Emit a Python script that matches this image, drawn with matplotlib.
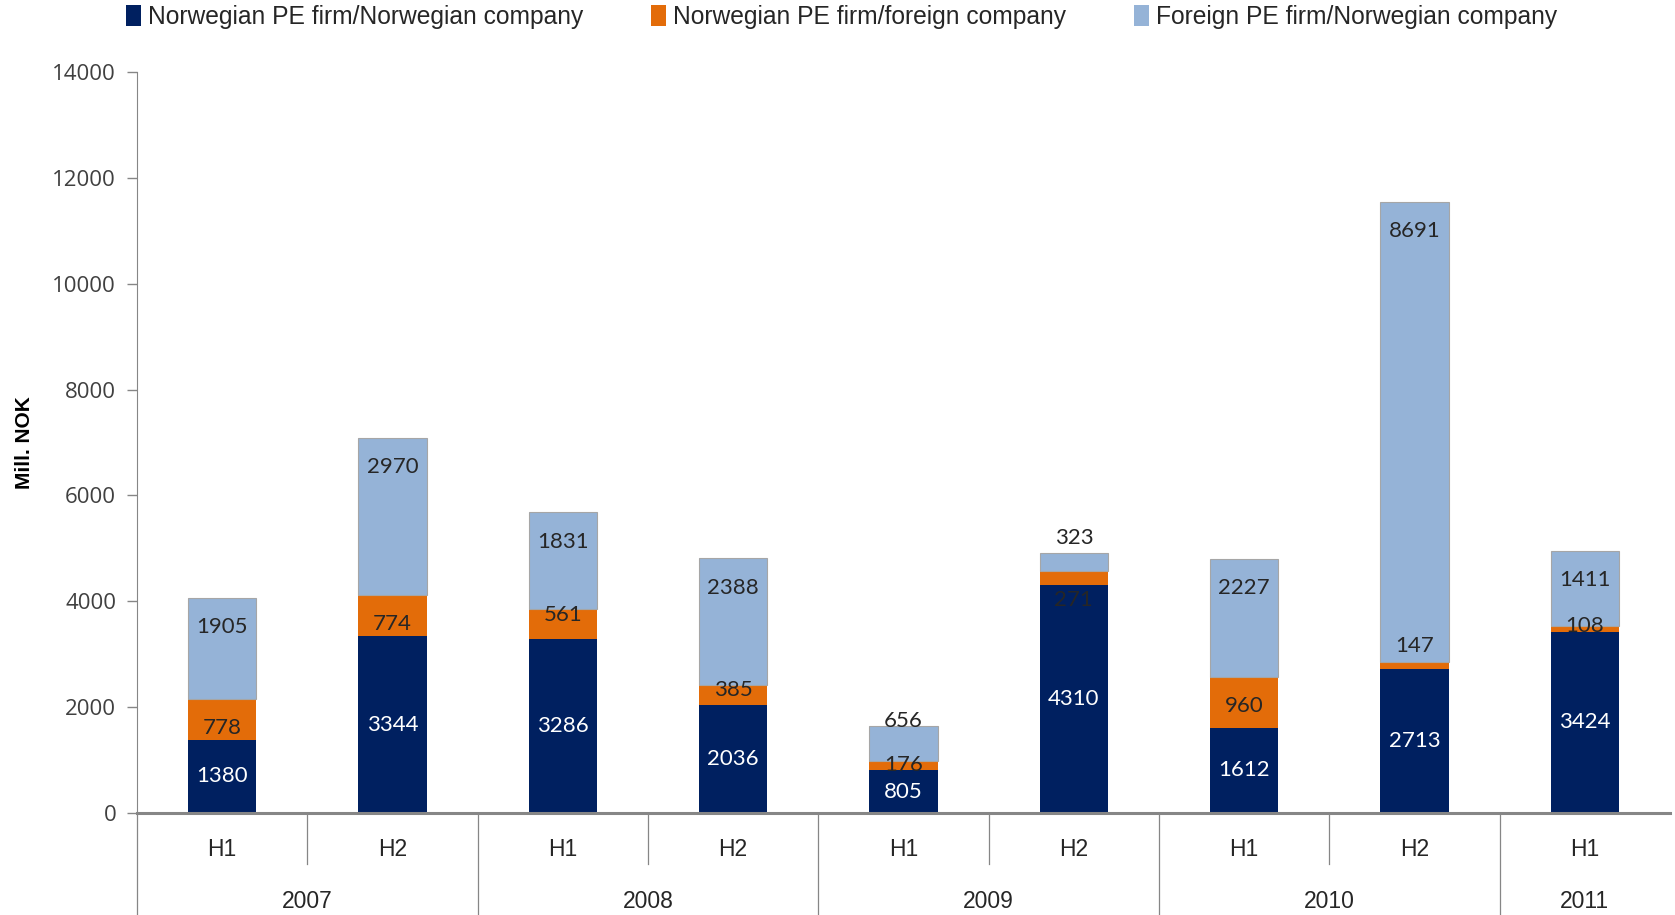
import matplotlib
matplotlib.use("Agg")
import matplotlib.pyplot as plt
import matplotlib.transforms as mtransforms
from matplotlib.patches import Patch
import numpy as np

# ---- data ----
halves = ["H1", "H2", "H1", "H2", "H1", "H2", "H1", "H2", "H1"]
years = ["2007", "2008", "2009", "2010", "2011"]
year_sizes = [2, 2, 2, 2, 1]
series_names = ["Norwegian PE firm/Norwegian company",
                "Norwegian PE firm/foreign company",
                "Foreign PE firm/Norwegian company"]
nor_nor = [1380, 3344, 3286, 2036, 805, 4310, 1612, 2713, 3424]
nor_for = [778, 774, 561, 385, 176, 271, 960, 147, 108]
for_nor = [1905, 2970, 1831, 2388, 656, 323, 2227, 8691, 1411]
y_ticks = [0, 2000, 4000, 6000, 8000, 10000, 12000, 14000]

# ---- style ----
colors = ["#002060", "#E36C09", "#95B3D7"]
label_colors = ["white", "#262626", "#262626"]
num_font = ["Lato", "DejaVu Sans"]
cat_font = ["Liberation Sans Narrow", "Liberation Sans", "DejaVu Sans"]
# inside-end label distance below segment top (data units), with nudges for thin segments
inside_end = 550
nudges = {(1, 2): 115, (1, 3): 100, (1, 4): 75, (1, 7): -300, (1, 8): 0,
          (2, 4): -100, (2, 5): -300}

fig = plt.figure(figsize=(16.75, 9.15), dpi=100)
ax = fig.add_axes([137 / 1675, 1 - 813 / 915, (1670 - 137) / 1675, (813 - 72) / 915])

x = np.arange(len(halves))
series = [nor_nor, nor_for, for_nor]
bottom = np.zeros(len(x))
for si, (vals, col) in enumerate(zip(series, colors)):
    vals = np.array(vals, dtype=float)
    ax.bar(x, vals, width=0.4, bottom=bottom, color=col, edgecolor="#A6A6A6" if si == 2 else col,
           linewidth=0.8 if si == 2 else 0, label=series_names[si], zorder=2)
    for i, v in enumerate(vals):
        top = bottom[i] + v
        if si == 0:
            yl = bottom[i] + v / 2
        else:
            yl = top - nudges.get((si, i), inside_end)
        ax.text(x[i], yl, f"{int(v)}", ha="center", va="center", fontsize=16,
                color=label_colors[si], family=num_font, zorder=3)
    bottom = bottom + vals

ax.set_xlim(-0.5, len(x) - 0.5)
ax.set_ylim(0, 14000)
ax.set_yticks(y_ticks)
ax.set_yticklabels([str(t) for t in y_ticks], fontsize=16, color="#404040",
                   family=["Open Sans", "DejaVu Sans"])
ax.tick_params(axis="y", length=7, color="#868686", width=1, pad=8)
ax.set_xticks([])
for s in ["top", "right"]:
    ax.spines[s].set_visible(False)
ax.spines["left"].set_color("#868686")
ax.spines["bottom"].set_color("#868686")
ax.spines["bottom"].set_linewidth(2.2)
ax.set_ylabel("Mill. NOK", fontsize=15, fontweight="bold", family=cat_font, labelpad=13)

# ---- category (two-level) axis ----
trans = mtransforms.blended_transform_factory(ax.transData, ax.transAxes)
for i, h in enumerate(halves):
    ax.text(x[i], -0.049, h, transform=trans, ha="center", va="center", fontsize=16.5,
            color="#262626", family=cat_font)
start = 0
bounds = [-0.5]
for yr, n in zip(years, year_sizes):
    center = start + (n - 1) / 2
    ax.text(center, -0.119, yr, transform=trans, ha="center", va="center", fontsize=16.5,
            color="#262626", family=cat_font)
    for k in range(1, n):
        ax.plot([start + k - 0.5] * 2, [0, -0.0688], transform=trans, color="#868686",
                lw=0.9, clip_on=False)
    start += n
    bounds.append(start - 0.5)
for b in bounds[:-1]:
    ax.plot([b, b], [0, -0.14], transform=trans, color="#868686", lw=0.9, clip_on=False)

# ---- legend ----
handles = [Patch(facecolor=c, edgecolor="none") for c in colors]
leg = fig.legend(handles, series_names, loc="center left", bbox_to_anchor=(126 / 1675, 1 - 17 / 915),
                 ncol=3, frameon=False, borderpad=0, borderaxespad=0,
                 handlelength=0.6, handleheight=0.9, handletextpad=0.3,
                 columnspacing=2.75, prop={"family": cat_font, "size": 17.7})
for t in leg.get_texts():
    t.set_color("#262626")

fig.savefig("out.png", dpi=100)
